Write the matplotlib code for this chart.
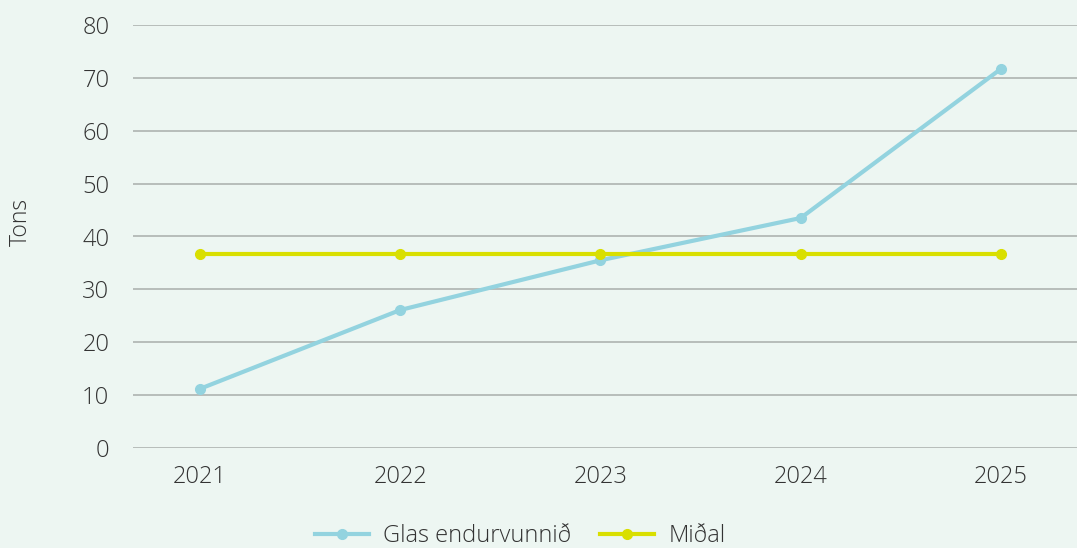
import matplotlib
matplotlib.use("Agg")
import matplotlib.pyplot as plt

years = ["2021", "2022", "2023", "2024", "2025"]
glas = [11.2, 26.1, 35.5, 43.5, 71.7]
midal = [36.7, 36.7, 36.7, 36.7, 36.7]
yticks = [0, 10, 20, 30, 40, 50, 60, 70, 80]

plt.rcParams['font.family'] = ['Open Sans', 'DejaVu Sans']
plt.rcParams['font.weight'] = 'light'
bg = "#EDF6F2"
fig = plt.figure(figsize=(10.77, 5.48), dpi=100, facecolor=bg)
W, H = 1077, 548
ax = fig.add_axes([133 / W, 1 - 448 / H, (1077 - 133) / W, (448 - 25) / H], facecolor=bg)

x = list(range(len(years)))
ax.plot(x, glas, color="#93D3DF", lw=3, marker="o", ms=7, label="Glas endurvunnið", zorder=3)
ax.plot(x, midal, color="#D9DF00", lw=3, marker="o", ms=7, label="Miðal", zorder=3)

ax.set_ylim(0, 80)
ax.set_xlim(-0.335, 4.38)
ax.set_yticks(yticks)
ax.set_xticks(x)
ax.set_xticklabels(years)
ax.grid(axis="y", color="#AEB3B1", lw=1.2)
ax.set_axisbelow(True)
for s in ax.spines.values():
    s.set_visible(False)
ax.tick_params(length=0, labelsize=17, colors="#333333")
ax.tick_params(axis="y", pad=17)
ax.tick_params(axis="x", pad=12)
ax.set_ylabel("Tons", fontsize=16.5, color="#333333", fontweight="light")
ax.yaxis.set_label_coords((33 - 133) / (1077 - 133), (448 - 222) / (448 - 25))

leg = fig.legend(loc="center", bbox_to_anchor=(520 / W, 1 - 536 / H), ncol=2, frameon=False,
                 fontsize=17, handlelength=2.3, columnspacing=1.2, handletextpad=0.6)
for t in leg.get_texts():
    t.set_color("#333333")

fig.savefig("out.png", dpi=100, facecolor=bg)
